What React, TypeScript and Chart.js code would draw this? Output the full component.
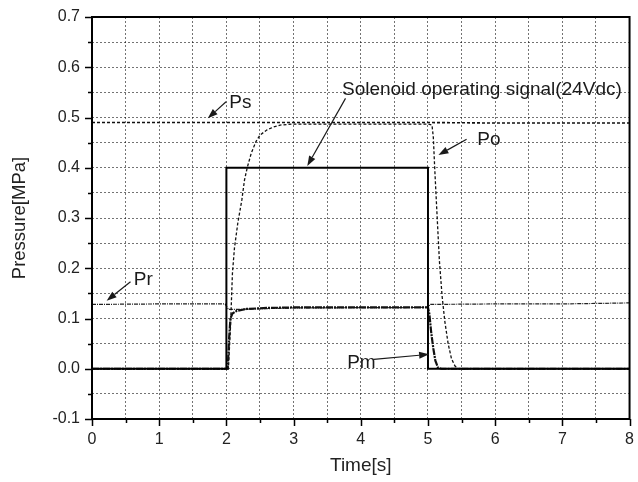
import React, { useEffect, useRef } from "react";
import { Chart, registerables } from "chart.js";

Chart.register(...registerables);

// ---- data ----
const signalTime = [0, 2, 2, 5, 5, 8];
const signalValue = [0, 0, 0.4, 0.4, 0, 0];

const psTime = [0, 1, 2, 3, 4, 5, 6, 7, 8];
const psValue = [0.49, 0.49, 0.49, 0.49, 0.49, 0.49, 0.489, 0.489, 0.489];

const poTime = [0, 2.03, 2.06, 2.09, 2.12, 2.17, 2.23, 2.27, 2.31, 2.37, 2.44, 2.5, 2.6, 2.7, 2.8, 3.0, 4.0, 5.0, 5.06, 5.08, 5.1, 5.13, 5.17, 5.21, 5.25, 5.3, 5.35, 5.4, 5.45, 8];
const poValue = [0, 0, 0.08, 0.19, 0.24, 0.29, 0.336, 0.376, 0.4, 0.429, 0.452, 0.465, 0.475, 0.481, 0.485, 0.487, 0.487, 0.487, 0.485, 0.46, 0.4, 0.32, 0.215, 0.145, 0.095, 0.05, 0.02, 0.006, 0, 0];

const pmTime = [0, 2.02, 2.04, 2.06, 2.09, 2.15, 2.3, 2.6, 3, 4, 5, 5.02, 5.05, 5.08, 5.11, 5.15, 5.2, 8];
const pmValue = [0, 0, 0.06, 0.1, 0.11, 0.115, 0.119, 0.121, 0.122, 0.122, 0.122, 0.11, 0.07, 0.04, 0.016, 0.002, 0, 0];

const prTime = [0, 1, 1.98, 2.03, 2.1, 3, 5, 5.03, 6, 7, 8];
const prValue = [0.128, 0.129, 0.129, 0.118, 0.118, 0.121, 0.122, 0.128, 0.129, 0.129, 0.131];

const xTickLabels = ["0", "1", "2", "3", "4", "5", "6", "7", "8"];
const yTickLabels = ["-0.1", "0.0", "0.1", "0.2", "0.3", "0.4", "0.5", "0.6", "0.7"];

// annotations (data coordinates)
const noteTexts = ["Ps", "Solenoid operating signal(24Vdc)", "Po", "Pr", "Pm"];
const noteX = [2.044, 3.72, 5.733, 0.622, 3.797];
const noteY = [0.519, 0.545, 0.4453, 0.1667, 0.001];
const arrowFromX = [1.995, 3.773, 5.575, 0.573, 4.193];
const arrowFromY = [0.5314, 0.538, 0.4566, 0.1733, 0.0188];
const arrowToX = [1.723, 3.204, 5.156, 0.218, 5.017];
const arrowToY = [0.4984, 0.4035, 0.4254, 0.1354, 0.0287];

const FONT = "'Liberation Sans', Arial, sans-serif";

function pts(t: number[], v: number[]) {
  return t.map((x, i) => ({ x, y: v[i] }));
}

const overlayPlugin = {
  id: "overlay",
  afterDatasetsDraw(chart: any) {
    const { ctx, chartArea, scales } = chart;
    const xs = scales.x;
    const ys = scales.y;
    ctx.save();
    // annotations
    ctx.fillStyle = "#1a1a1a";
    ctx.strokeStyle = "#1a1a1a";
    ctx.font = `19px ${FONT}`;
    ctx.textAlign = "left";
    ctx.textBaseline = "alphabetic";
    for (let i = 0; i < noteTexts.length; i++) {
      ctx.fillText(noteTexts[i], xs.getPixelForValue(noteX[i]), ys.getPixelForValue(noteY[i]));
      const x1 = xs.getPixelForValue(arrowFromX[i]);
      const y1 = ys.getPixelForValue(arrowFromY[i]);
      const x2 = xs.getPixelForValue(arrowToX[i]);
      const y2 = ys.getPixelForValue(arrowToY[i]);
      const ang = Math.atan2(y2 - y1, x2 - x1);
      const hl = 10;
      const hw = 3.5;
      const bx = x2 - hl * Math.cos(ang);
      const by = y2 - hl * Math.sin(ang);
      ctx.lineWidth = 1.2;
      ctx.beginPath();
      ctx.moveTo(x1, y1);
      ctx.lineTo(bx, by);
      ctx.stroke();
      ctx.beginPath();
      ctx.moveTo(x2, y2);
      ctx.lineTo(bx + hw * Math.sin(ang), by - hw * Math.cos(ang));
      ctx.lineTo(bx - hw * Math.sin(ang), by + hw * Math.cos(ang));
      ctx.closePath();
      ctx.fill();
    }
    // frame
    ctx.strokeStyle = "#000";
    ctx.lineWidth = 2;
    ctx.strokeRect(chartArea.left, chartArea.top, chartArea.right - chartArea.left, chartArea.bottom - chartArea.top);
    // ticks
    ctx.lineWidth = 1.5;
    ctx.beginPath();
    for (let v = -0.1; v <= 0.7001; v += 0.05) {
      const major = Math.abs(Math.round(v * 10) - v * 10) < 1e-6;
      const py = Math.round(ys.getPixelForValue(v)) + 0.5;
      ctx.moveTo(chartArea.left, py);
      ctx.lineTo(chartArea.left - (major ? 7 : 4), py);
    }
    for (let t = 0; t <= 8.0001; t += 0.5) {
      const major = Math.abs(Math.round(t) - t) < 1e-6;
      const px = Math.round(xs.getPixelForValue(t)) + 0.5;
      ctx.moveTo(px, chartArea.bottom);
      ctx.lineTo(px, chartArea.bottom + (major ? 7 : 4));
    }
    ctx.stroke();
    ctx.restore();
  },
};

export default function App() {
  const ref = useRef<HTMLCanvasElement | null>(null);
  useEffect(() => {
    if (!ref.current) return;
    const chart = new Chart(ref.current, {
      type: "line",
      data: {
        datasets: [
          { label: "Solenoid", data: pts(signalTime, signalValue), borderColor: "#000", borderWidth: 2 },
          { label: "Pm", data: pts(pmTime, pmValue), borderColor: "#111", borderWidth: 2.2, borderDash: [7, 1, 2, 1] },
          { label: "Po", data: pts(poTime, poValue), borderColor: "#111", borderWidth: 1.3, borderDash: [3, 2] },
          { label: "Ps", data: pts(psTime, psValue), borderColor: "#111", borderWidth: 1.6, borderDash: [3, 2] },
          { label: "Pr", data: pts(prTime, prValue), borderColor: "#222", borderWidth: 1.2, borderDash: [4, 1, 1, 1] },
        ],
      },
      options: {
        animation: false,
        responsive: false,
        maintainAspectRatio: false,
        parsing: false as any,
        elements: { point: { radius: 0 }, line: { tension: 0, fill: false } },
        layout: { padding: { top: 17, right: 6, left: 0, bottom: 0 } },
        plugins: { legend: { display: false }, tooltip: { enabled: false } },
        scales: {
          x: {
            type: "linear",
            min: 0,
            max: 8,
            afterFit: (s: any) => { s.height = 63; },
            ticks: {
              stepSize: 0.5,
              color: "#222",
              font: { family: FONT, size: 16 },
              padding: 4,
              maxRotation: 0,
              autoSkip: false,
              callback: (v: any) => {
                const n = Number(v);
                return Math.abs(n - Math.round(n)) < 1e-6 ? xTickLabels[Math.round(n)] : "";
              },
            },
            grid: { color: "rgba(0,0,0,0.55)", lineWidth: 1, tickLength: 7, tickColor: "transparent" },
            border: { display: false, dash: [2, 2] },
            title: { display: true, text: "Time[s]", color: "#222", font: { family: FONT, size: 19 }, padding: { top: 0, bottom: 4.5 } },
          },
          y: {
            type: "linear",
            min: -0.1,
            max: 0.7,
            afterFit: (s: any) => { s.width = 92; },
            ticks: {
              stepSize: 0.05,
              color: "#222",
              font: { family: FONT, size: 16 },
              padding: 4,
              autoSkip: false,
              callback: (v: any) => {
                const n = Number(v) * 10;
                const k = Math.round(n);
                return Math.abs(n - k) < 1e-6 ? yTickLabels[k + 1] : "";
              },
            },
            grid: { color: "rgba(0,0,0,0.55)", lineWidth: 1, tickLength: 8, tickColor: "transparent" },
            border: { display: false, dash: [2, 2] },
            title: { display: true, text: "Pressure[MPa]", color: "#222", font: { family: FONT, size: 18.5 }, padding: { top: 9, bottom: 0 } },
          },
        },
      },
      plugins: [overlayPlugin],
    });
    return () => chart.destroy();
  }, []);
  return (
    <div style={{ position: "absolute", left: 0, top: 0, width: 638, height: 482, background: "#fff" }}>
      <canvas ref={ref} width={638} height={482} style={{ display: "block" }} />
    </div>
  );
}
